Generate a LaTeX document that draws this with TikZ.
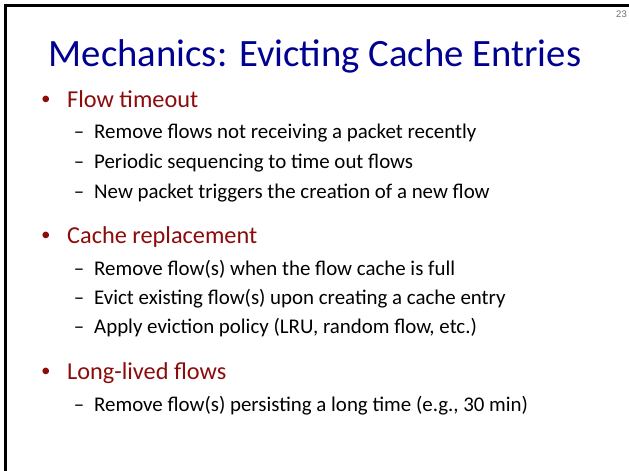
\documentclass[tikz,border=0pt]{standalone}
\usepackage{fontspec}
\setmainfont{Carlito}
\newfontfamily\arialfont{Liberation Sans}
\definecolor{titleblue}{RGB}{0,0,145}
\definecolor{bulletred}{RGB}{140,12,12}
\definecolor{pagegray}{RGB}{110,110,110}
\begin{document}
\begin{tikzpicture}[x=1pt,y=-1pt,
  titletext/.style={anchor=base,text=titleblue,font=\fontsize{38.7}{44}\selectfont,inner sep=0pt},
  topitem/.style={anchor=base west,text=bulletred,font=\fontsize{24.3}{28}\selectfont,inner sep=0pt},
  subitem/.style={anchor=base west,text=black,font=\fontsize{20.9}{24}\selectfont,inner sep=0pt},
  bulletmark/.style={anchor=base,text=bulletred,font=\arialfont\fontsize{24.3}{28}\selectfont,inner sep=0pt},
  dashmark/.style={anchor=base,text=black,font=\fontsize{20.9}{24}\selectfont,inner sep=0pt},
  frameline/.style={line width=2.7pt,black}]
  \useasboundingbox[fill=white] (0,0) rectangle (629,471);
  % slide frame: top and left edges
  \draw[frameline] (5.3,471) -- (5.3,5.3) -- (629,5.3);
  % page number
  \node[anchor=base east,inner sep=0pt,text=pagegray,font=\arialfont\fontsize{9.5}{11}\selectfont] (pnum) at (627,17) {23};
  % title
  \node[titletext] (title) at (315,66) {Mechanics: Evicting Cache Entries};
  % first group
  \node[bulletmark] (b1) at (46,107) {•};
  \node[topitem] (t1) at (67,107) {Flow timeout};
  \node[dashmark] (d11) at (79,138) {–};
  \node[subitem] (s11) at (94,138) {Remove flows not receiving a packet recently};
  \node[dashmark] (d12) at (79,168) {–};
  \node[subitem] (s12) at (94,168) {Periodic sequencing to time out flows};
  \node[dashmark] (d13) at (79,198) {–};
  \node[subitem] (s13) at (94,198) {New packet triggers the creation of a new flow};
  % second group
  \node[bulletmark] (b2) at (46,243) {•};
  \node[topitem] (t2) at (67,243) {Cache replacement};
  \node[dashmark] (d21) at (79,275) {–};
  \node[subitem] (s21) at (94,275) {Remove flow(s) when the flow cache is full};
  \node[dashmark] (d22) at (79,304) {–};
  \node[subitem] (s22) at (94,304) {Evict existing flow(s) upon creating a cache entry};
  \node[dashmark] (d23) at (79,333) {–};
  \node[subitem] (s23) at (94,333) {Apply eviction policy (LRU, random flow, etc.)};
  % third group
  \node[bulletmark] (b3) at (46,379) {•};
  \node[topitem] (t3) at (67,379) {Long-lived flows};
  \node[dashmark] (d31) at (79,411) {–};
  \node[subitem] (s31) at (94,411) {Remove flow(s) persisting a long time (e.g., 30 min)};
\end{tikzpicture}
\end{document}
